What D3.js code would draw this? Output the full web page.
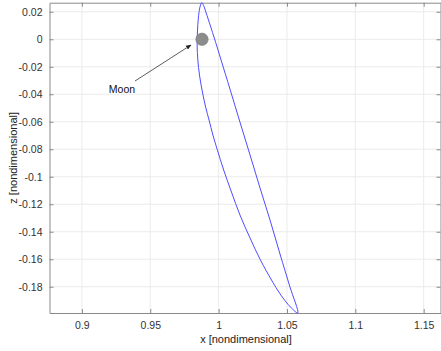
<!DOCTYPE html>
<html>
<head>
<meta charset="utf-8">
<script src="https://cdn.jsdelivr.net/npm/d3@7"></script>
<style>
  body { margin: 0; background: #fff; }
  text { font-family: "Liberation Sans", Arial, sans-serif; }
</style>
</head>
<body>
<svg id="chart" width="441" height="351"></svg>
<script>
// orbit samples (x, z): apex -> left branch -> bottom -> right branch
var orbitX = [0.9876, 0.9862, 0.9852, 0.9845, 0.9843, 0.9848, 0.9860, 0.9880, 0.9905, 0.9930,
              0.9958, 0.9991, 1.0037, 1.0094, 1.0156, 1.0230, 1.0306, 1.0387, 1.0431, 1.0482,
              1.0533, 1.0579,
              1.0522, 1.0449, 1.0376, 1.0303, 1.0230, 1.0156, 1.0083, 1.0018, 0.9966, 0.9926,
              0.9904, 0.9890];
var orbitZ = [0.0266, 0.0227, 0.0155, 0.0053, -0.0042, -0.0151, -0.0260, -0.0376, -0.0493, -0.0587,
              -0.0696, -0.0805, -0.0951, -0.1111, -0.1278, -0.1446, -0.1606, -0.1751, -0.1824, -0.1897,
              -0.1955, -0.1991,
              -0.1802, -0.1562, -0.1315, -0.1082, -0.0842, -0.0602, -0.0362, -0.0151, 0.0017, 0.0140,
              0.0206, 0.0246];

var moonPos = [0.98785, 0];
var moonRadius = 0.00452;

var xTicks = [0.9, 0.95, 1, 1.05, 1.1, 1.15];
var xTickLabels = ["0.9", "0.95", "1", "1.05", "1.1", "1.15"];
var zTicks = [0.02, 0, -0.02, -0.04, -0.06, -0.08, -0.1, -0.12, -0.14, -0.16, -0.18];
var zTickLabels = ["0.02", "0", "-0.02", "-0.04", "-0.06", "-0.08", "-0.1", "-0.12", "-0.14", "-0.16", "-0.18"];

var svg = d3.select("#chart");

// plot box in pixels (note: "top" is a reserved window global, so prefix these)
var plotL = 49.5, plotR = 440.5, plotT = 2.7, plotB = 313;

var x = d3.scaleLinear().domain([0.8763, 1.1623]).range([plotL, plotR]);
var z = d3.scaleLinear().domain([-0.1991, 0.0266]).range([plotB, plotT]);

var defs = svg.append("defs");
defs.append("clipPath").attr("id", "plotclip")
  .append("rect")
  .attr("x", plotL).attr("y", plotT - 1)
  .attr("width", plotR - plotL).attr("height", plotB - plotT + 2);

// grid
var grid = svg.append("g").attr("class", "grid");
grid.selectAll("line.gx").data(xTicks).enter().append("line")
  .attr("x1", function (d) { return x(d); }).attr("x2", function (d) { return x(d); })
  .attr("y1", plotT).attr("y2", plotB)
  .attr("stroke", "#ebebeb").attr("stroke-width", 1);
grid.selectAll("line.gz").data(zTicks).enter().append("line")
  .attr("y1", function (d) { return z(d); }).attr("y2", function (d) { return z(d); })
  .attr("x1", plotL).attr("x2", plotR)
  .attr("stroke", "#ebebeb").attr("stroke-width", 1);

// axes: ticks inward, box on
var axisColor = "#8a8a8a";
var bottomAxis = d3.axisBottom(x).tickValues(xTicks)
  .tickFormat(function (d, i) { return xTickLabels[i]; })
  .tickSizeInner(-4).tickSizeOuter(0).tickPadding(9);
var leftAxis = d3.axisLeft(z).tickValues(zTicks)
  .tickFormat(function (d, i) { return zTickLabels[i]; })
  .tickSizeInner(-4).tickSizeOuter(0).tickPadding(7);

var gx = svg.append("g").attr("transform", "translate(0," + plotB + ")").call(bottomAxis);
var gz = svg.append("g").attr("transform", "translate(" + plotL + ",0)").call(leftAxis);
var gTop = svg.append("g").attr("transform", "translate(0," + plotT + ")")
  .call(d3.axisTop(x).tickValues(xTicks).tickFormat("").tickSizeInner(-4).tickSizeOuter(0));
var gRight = svg.append("g").attr("transform", "translate(" + plotR + ",0)")
  .call(d3.axisRight(z).tickValues(zTicks).tickFormat("").tickSizeInner(-4).tickSizeOuter(0));

[gx, gz, gTop, gRight].forEach(function (g) {
  g.select(".domain").attr("stroke", axisColor).attr("stroke-width", 1);
  g.selectAll(".tick line").attr("stroke", axisColor);
  g.selectAll(".tick text").attr("fill", "#333").attr("font-size", "10.5px")
    .style("font-family", "'Liberation Sans', Arial, sans-serif");
});

// orbit
var pts = orbitX.map(function (v, i) { return [v, orbitZ[i]]; });
var line = d3.line()
  .x(function (d) { return x(d[0]); })
  .y(function (d) { return z(d[1]); })
  .curve(d3.curveCatmullRomClosed.alpha(0.5));

svg.append("g").attr("clip-path", "url(#plotclip)")
  .append("path")
  .attr("d", line(pts))
  .attr("fill", "none")
  .attr("stroke", "#4d4dff")
  .attr("stroke-width", 1);

// moon
var rPx = x(moonPos[0] + moonRadius) - x(moonPos[0]);
svg.append("circle")
  .attr("cx", x(moonPos[0])).attr("cy", z(moonPos[1]))
  .attr("r", rPx)
  .attr("fill", "#8c8c8c")
  .attr("stroke", "#7a7a7a").attr("stroke-width", 0.6);

// annotation arrow
defs.append("marker")
  .attr("id", "arrowhead")
  .attr("viewBox", "0 0 10 10").attr("refX", 9).attr("refY", 5)
  .attr("markerWidth", 7).attr("markerHeight", 7)
  .attr("orient", "auto")
  .append("path").attr("d", "M0,1 L10,5 L0,9 z").attr("fill", "#222");

svg.append("line")
  .attr("x1", 135).attr("y1", 81)
  .attr("x2", 191).attr("y2", 45)
  .attr("stroke", "#333").attr("stroke-width", 0.8)
  .attr("marker-end", "url(#arrowhead)");

svg.append("text")
  .attr("x", 122).attr("y", 93)
  .attr("text-anchor", "middle")
  .attr("font-size", "10.5px").attr("fill", "#111")
  .text("Moon");

// axis labels
svg.append("text")
  .attr("x", 246).attr("y", 343)
  .attr("text-anchor", "middle")
  .attr("font-size", "11px").attr("fill", "#222")
  .text("x [nondimensional]");

svg.append("text")
  .attr("transform", "translate(17," + ((plotT + plotB) / 2) + ") rotate(-90)")
  .attr("text-anchor", "middle")
  .attr("font-size", "11px").attr("fill", "#222")
  .text("z [nondimensional]");
</script>
</body>
</html>
